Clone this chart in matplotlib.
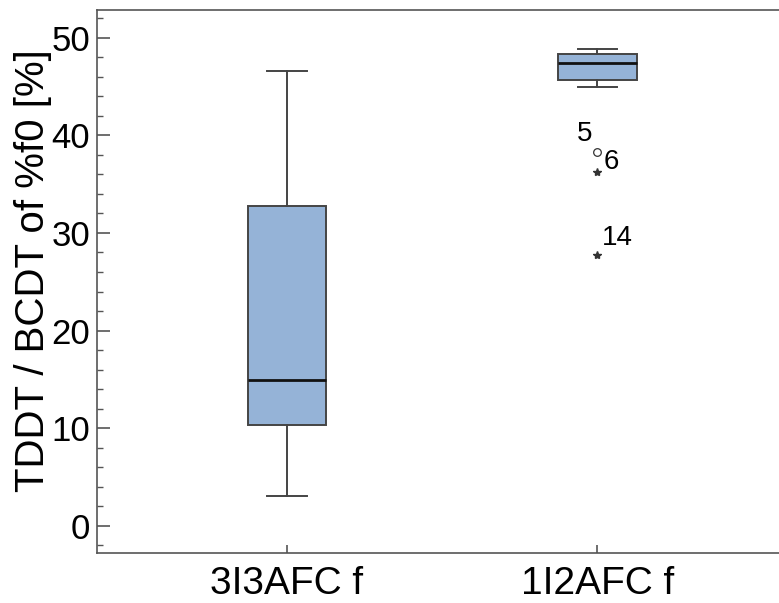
import matplotlib
matplotlib.use("Agg")
import matplotlib.pyplot as plt
from matplotlib.ticker import MultipleLocator

plt.rcParams['font.family'] = ['Liberation Sans', 'DejaVu Sans']

# box statistics per condition
groups = ['3I3AFC f', '1I2AFC f']
whisker_low = [3.0, 45.0]
q1 = [10.35, 45.7]
median = [14.95, 47.45]
q3 = [32.8, 48.35]
whisker_high = [46.6, 48.85]

# outliers of the second condition (circle = outlier, star = extreme)
outlier_vals = [38.25]
outlier_ids = ['5']
extreme_vals = [36.2, 27.7]
extreme_ids = ['6', '14']

box_color = '#95b3d7'
edge_color = '#444444'

fig = plt.figure(figsize=(7.79, 6.03), dpi=100)
ax = fig.add_axes([0.1245, 0.0829, 0.8832, 0.9005])

stats = []
for i, name in enumerate(groups):
    stats.append(dict(label=name, whislo=whisker_low[i], q1=q1[i], med=median[i],
                      q3=q3[i], whishi=whisker_high[i], fliers=[]))

ax.bxp(stats, positions=[1, 2], widths=0.252, patch_artist=True, showfliers=False,
       boxprops=dict(facecolor=box_color, edgecolor=edge_color, linewidth=1.4),
       medianprops=dict(color='#111111', linewidth=2.0),
       whiskerprops=dict(color=edge_color, linewidth=1.4),
       capprops=dict(color=edge_color, linewidth=1.4),
       capwidths=0.126)

# outliers with case numbers
ax.plot([2] * len(outlier_vals), outlier_vals, linestyle='none', marker='o',
        markersize=5.5, markerfacecolor='none', markeredgecolor='#333333', markeredgewidth=0.9)
ax.plot([2] * len(extreme_vals), extreme_vals, linestyle='none', marker='*',
        markersize=6, color='#333333')
ax.text(1.96, 39.45, outlier_ids[0], fontsize=20, ha='center', va='baseline')
ax.text(2.044, 36.55, extreme_ids[0], fontsize=20, ha='center', va='baseline')
ax.text(2.063, 28.8, extreme_ids[1], fontsize=20, ha='center', va='baseline')

ax.set_xlim(0.388, 2.604)
ax.set_ylim(-2.8, 52.85)
ax.yaxis.set_major_locator(MultipleLocator(10))
ax.yaxis.set_minor_locator(MultipleLocator(2))
ax.tick_params(axis='y', which='major', direction='in', length=9, width=1.2,
               color='#555555', labelsize=25, pad=5)
ax.tick_params(axis='y', which='minor', direction='in', length=4, width=1.0, color='#555555')
ax.tick_params(axis='x', direction='in', length=6, width=1.2, color='#555555',
               labelsize=28, pad=9)
ax.set_xticks([1, 2])
ax.set_xticklabels(groups)

for side in ['left', 'bottom', 'top']:
    ax.spines[side].set_color('#555555')
    ax.spines[side].set_linewidth(1.2)
ax.spines['right'].set_visible(False)

ax.set_ylabel('TDDT / BCDT of %f0 [%]', fontsize=29)
ax.yaxis.set_label_coords(-0.066, 0.52)

fig.savefig('out.png', dpi=100)
